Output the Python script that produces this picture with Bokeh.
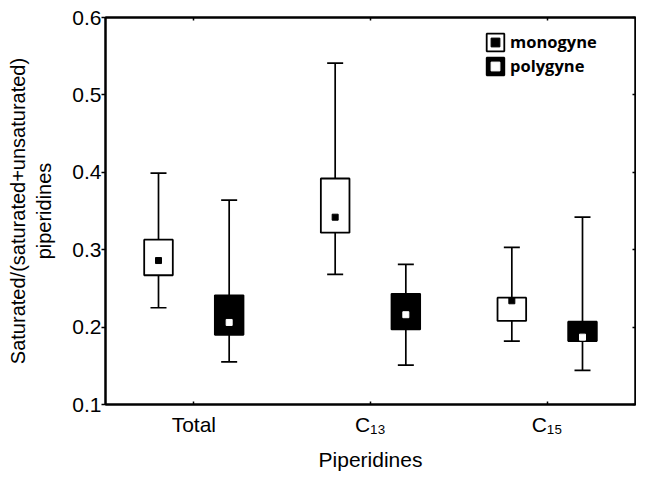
from bokeh.plotting import figure
from bokeh.models import (ColumnDataSource, FactorRange, Range1d, Whisker, TeeHead,
                          Legend, LegendItem, LinearAxis, CategoricalAxis, FixedTicker)
from bokeh.transform import dodge
from bokeh.embed import file_html
from bokeh.resources import INLINE

categories = ["Total", "C\u2081\u2083", "C\u2081\u2085"]

mono_low = [0.225, 0.268, 0.182]
mono_q1 = [0.267, 0.322, 0.208]
mono_mid = [0.286, 0.342, 0.234]
mono_q3 = [0.313, 0.392, 0.238]
mono_high = [0.399, 0.541, 0.303]

poly_low = [0.155, 0.151, 0.144]
poly_q1 = [0.190, 0.197, 0.182]
poly_mid = [0.206, 0.216, 0.187]
poly_q3 = [0.241, 0.243, 0.207]
poly_high = [0.364, 0.281, 0.342]

y_ticks = [0.1, 0.2, 0.3, 0.4, 0.5, 0.6]

FONT = "Liberation Sans"

p = figure(x_range=FactorRange(*categories, range_padding=0), y_range=Range1d(0.1, 0.6),
           frame_width=530, frame_height=387, output_backend="svg", toolbar_location=None,
           min_border_left=105, min_border_top=17, min_border_right=1, min_border_bottom=58)
p.background_fill_color = "white"
p.border_fill_color = "white"
p.grid.visible = False
p.outline_line_color = "black"
p.outline_line_width = 2

src_m = ColumnDataSource(dict(cat=categories, low=mono_low, q1=mono_q1, mid=mono_mid, q3=mono_q3, high=mono_high))
src_p = ColumnDataSource(dict(cat=categories, low=poly_low, q1=poly_q1, mid=poly_mid, q3=poly_q3, high=poly_high))

renderers = {}
for name, src, off, fill, dotc in [("mono", src_m, -0.2, "white", "black"), ("poly", src_p, 0.2, "black", "white")]:
    xs = dodge("cat", off, range=p.x_range)
    for lo, hi, up, down in [("q3", "high", True, False), ("low", "q1", False, True)]:
        w = Whisker(source=src, base=xs, lower=lo, upper=hi, dimension="height",
                    line_color="black", line_width=1.7,
                    upper_head=TeeHead(size=16, line_color="black", line_width=1.7) if up else None,
                    lower_head=TeeHead(size=16, line_color="black", line_width=1.7) if down else None)
        p.add_layout(w)
    box = p.vbar(x=xs, top="q3", bottom="q1", width=0.162, source=src,
                 fill_color=fill, line_color="black", line_width=1.8)
    dot = p.scatter(x=xs, y="mid", source=src, marker="square", size=6,
                    fill_color=dotc, line_color=dotc)
    renderers[name] = (box, dot)

legend = Legend(items=[LegendItem(label="monogyne", renderers=list(renderers["mono"])),
                       LegendItem(label="polygyne", renderers=list(renderers["poly"]))],
                location=(379, 327), padding=0, margin=0, spacing=1,
                glyph_width=22, glyph_height=22, label_standoff=4,
                background_fill_alpha=0, border_line_color=None,
                label_text_font="Open Sans", label_text_font_style="bold",
                label_text_font_size="16.5px", label_text_color="black")
p.add_layout(legend)

# Axes
p.yaxis.ticker = FixedTicker(ticks=y_ticks)
p.yaxis.major_label_overrides = {t: f"{t:.1f}" for t in y_ticks}
p.yaxis.minor_tick_line_color = None
p.yaxis.major_tick_out = 4
p.yaxis.major_tick_in = 0
p.yaxis.major_label_standoff = 0
p.yaxis.axis_label = "Saturated/(saturated+unsaturated)\npiperidines"
p.yaxis.axis_label_standoff = 14
p.xaxis.axis_label = "Piperidines"
p.xaxis.major_tick_out = 0
p.xaxis.major_tick_in = 3
p.xaxis.major_label_standoff = 8
p.xaxis.axis_label_standoff = 9
for ax in [p.xaxis[0], p.yaxis[0]]:
    ax.axis_line_width = 2
    ax.axis_line_color = "black"
    ax.major_tick_line_color = "black"
    ax.major_tick_line_width = 1.5
    ax.major_label_text_font = FONT
    ax.major_label_text_font_size = "21px"
    ax.major_label_text_color = "black"
    ax.axis_label_text_font = FONT
    ax.axis_label_text_font_size = "20px"
    ax.axis_label_text_font_style = "normal"
    ax.axis_label_text_color = "black"
p.xaxis.axis_label_text_font_size = "21px"

top_ax = CategoricalAxis(major_tick_in=3, major_tick_out=0, major_label_text_font_size="1px",
                         major_label_text_color=None,
                         major_label_standoff=0, axis_line_width=2, major_tick_line_width=1.5)
right_ax = LinearAxis(ticker=FixedTicker(ticks=y_ticks), major_tick_in=3, major_tick_out=0,
                      minor_tick_line_color=None, major_label_text_font_size="1px",
                      major_label_text_color=None,
                      major_label_standoff=0, axis_line_width=2, major_tick_line_width=1.5)
p.add_layout(top_ax, "above")
p.add_layout(right_ax, "right")

open("out.html", "w").write(file_html(p, INLINE))
